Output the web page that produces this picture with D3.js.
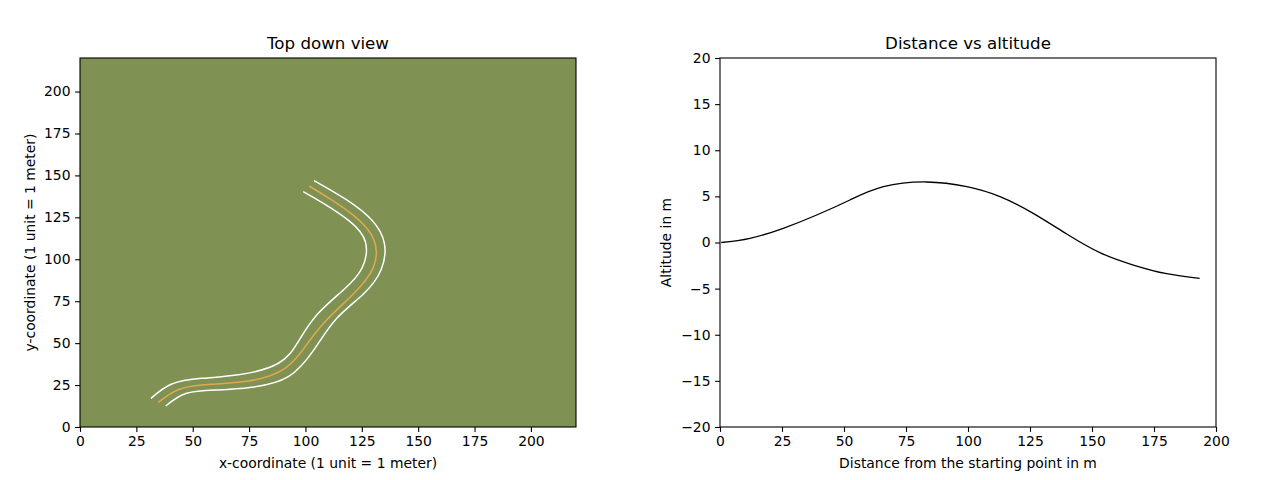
<!DOCTYPE html>
<html lang="en">

<head>
    <meta charset="UTF-8">
    <title>Top down view and altitude</title>
    <script src="https://cdn.jsdelivr.net/npm/d3@7"></script>
    <style>
        html,
        body {
            margin: 0;
            padding: 0;
            background: #fff;
        }

        svg {
            display: block;
        }

        text {
            font-family: "DejaVu Sans", sans-serif;
            fill: #000;
        }
    </style>
</head>

<body>
    <div id="chart"></div>
    <script>
        // Road
        const centerX = [34.7, 44.4, 58.4, 74.7, 90.9, 101.1, 109.4, 121.2, 130.0, 130.4, 122.0, 110.9, 101.6];
        const centerY = [14.7, 22.7, 25.5, 27.4, 35.0, 50.1, 63.8, 79.3, 94.8, 111.5, 125.4, 136.0, 143.7];
        const leftEdgeX = [31.5, 40.7, 54.0, 71.0, 88.0, 96.8, 105.0, 116.8, 125.1, 126.6, 119.8, 108.7, 99.0];
        const leftEdgeY = [17.1, 25.6, 29.0, 31.3, 38.0, 50.9, 66.8, 81.7, 94.8, 110.3, 122.4, 132.7, 140.3];
        const rightEdgeX = [38.0, 47.3, 61.3, 76.2, 92.4, 104.2, 113.9, 125.7, 133.5, 135.0, 129.4, 118.3, 103.8];
        const rightEdgeY = [12.5, 20.1, 22.1, 23.7, 30.0, 46.9, 64.8, 79.3, 93.6, 109.5, 123.4, 135.4, 146.9];

        // Altitude profile
        const distance = [0.5, 12.1, 25.5, 39, 52.4, 65.9, 83.3, 99.5, 112.9, 126.3, 139.8, 153.2, 166.7, 180.1, 193.4];
        const altitude = [0, 0.45, 1.54, 2.98, 4.61, 6.05, 6.56, 6.05, 4.97, 3.16, 0.92, -1.1, -2.44, -3.38, -3.88];

        const topTicks = [0, 25, 50, 75, 100, 125, 150, 175, 200];
        const distanceTicks = [0, 25, 50, 75, 100, 125, 150, 175, 200];
        const altitudeTicks = [-20, -15, -10, -5, 0, 5, 10, 15, 20];

        const width = 1280;
        const height = 480;
        const panelTop = 58;
        const panelBottom = 427;

        const svg = d3.select('#chart').append('svg')
            .attr('width', width)
            .attr('height', height);

        // Draws one panel: background, frame, ticks and labels
        function drawPanel(opts) {
            const g = svg.append('g');

            g.append('rect')
                .attr('x', opts.left)
                .attr('y', panelTop)
                .attr('width', opts.right - opts.left)
                .attr('height', panelBottom - panelTop)
                .attr('fill', opts.background);

            opts.drawMarks(g);

            const xAxis = g.append('g')
                .attr('transform', `translate(0,${panelBottom})`)
                .call(d3.axisBottom(opts.x).tickValues(opts.xTicks).tickSize(4.9).tickPadding(4.6).tickSizeOuter(0));
            const yAxis = g.append('g')
                .attr('transform', `translate(${opts.left},0)`)
                .call(d3.axisLeft(opts.y).tickValues(opts.yTicks).tickSize(4.9).tickPadding(4.6).tickSizeOuter(0));

            [xAxis, yAxis].forEach(axis => {
                axis.attr('font-size', null).attr('font-family', null);
                axis.select('.domain').remove();
                axis.selectAll('line').attr('stroke', '#000').attr('stroke-width', 1.1);
                axis.selectAll('text').style('font-size', '13.9px');
            });

            g.append('rect')
                .attr('x', opts.left)
                .attr('y', panelTop)
                .attr('width', opts.right - opts.left)
                .attr('height', panelBottom - panelTop)
                .attr('fill', 'none')
                .attr('stroke', '#000')
                .attr('stroke-width', 1.1);

            const mid = (opts.left + opts.right) / 2;

            g.append('text')
                .attr('x', mid)
                .attr('y', 49)
                .attr('text-anchor', 'middle')
                .style('font-size', '16.67px')
                .text(opts.title);

            g.append('text')
                .attr('x', mid)
                .attr('y', 468)
                .attr('text-anchor', 'middle')
                .style('font-size', '13.9px')
                .text(opts.xLabel);

            g.append('text')
                .attr('transform', `translate(${opts.yLabelX},${(panelTop + panelBottom) / 2}) rotate(-90)`)
                .attr('text-anchor', 'middle')
                .style('font-size', '13.9px')
                .text(opts.yLabel);
        }

        const topX = d3.scaleLinear().domain([0, 220]).range([80, 576]);
        const topY = d3.scaleLinear().domain([0, 220]).range([panelBottom, panelTop]);

        // few points, evenly spaced along the road: natural spline stays smooth
        const roadLine = d3.line()
            .x(d => topX(d[0]))
            .y(d => topY(d[1]))
            .curve(d3.curveNatural);

        drawPanel({
            left: 80,
            right: 576,
            x: topX,
            y: topY,
            xTicks: topTicks,
            yTicks: topTicks,
            background: '#7f9153',
            title: 'Top down view',
            xLabel: 'x-coordinate (1 unit = 1 meter)',
            yLabel: 'y-coordinate (1 unit = 1 meter)',
            yLabelX: 35,
            drawMarks: g => {
                g.append('path')
                    .attr('d', roadLine(d3.zip(leftEdgeX, leftEdgeY)))
                    .attr('fill', 'none')
                    .attr('stroke', '#fff')
                    .attr('stroke-width', 1.5);
                g.append('path')
                    .attr('d', roadLine(d3.zip(rightEdgeX, rightEdgeY)))
                    .attr('fill', 'none')
                    .attr('stroke', '#fff')
                    .attr('stroke-width', 1.5);
                g.append('path')
                    .attr('d', roadLine(d3.zip(centerX, centerY)))
                    .attr('fill', 'none')
                    .attr('stroke', '#dfa850')
                    .attr('stroke-width', 1.6);
            }
        });

        const distX = d3.scaleLinear().domain([0, 200]).range([720, 1216]);
        const altY = d3.scaleLinear().domain([-20, 20]).range([panelBottom, panelTop]);

        const altLine = d3.line()
            .x(d => distX(d[0]))
            .y(d => altY(d[1]))
            .curve(d3.curveNatural);

        drawPanel({
            left: 720,
            right: 1216,
            x: distX,
            y: altY,
            xTicks: distanceTicks,
            yTicks: altitudeTicks,
            background: '#fff',
            title: 'Distance vs altitude',
            xLabel: 'Distance from the starting point in m',
            yLabel: 'Altitude in m',
            yLabelX: 671,
            drawMarks: g => {
                g.append('path')
                    .attr('d', altLine(d3.zip(distance, altitude)))
                    .attr('fill', 'none')
                    .attr('stroke', '#000')
                    .attr('stroke-width', 1.3);
            }
        });
    </script>
</body>

</html>
